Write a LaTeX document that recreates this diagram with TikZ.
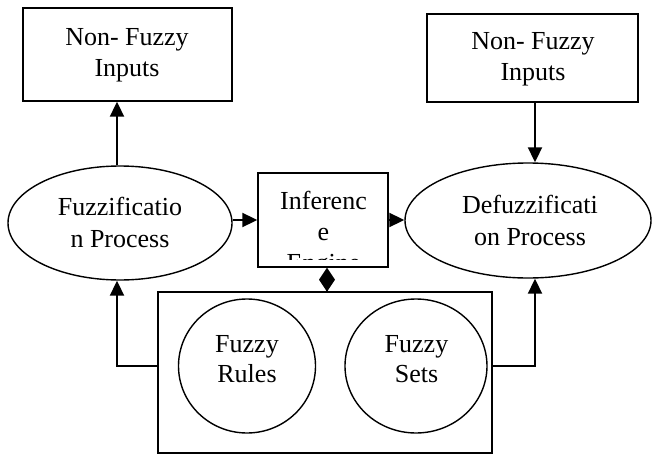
\documentclass[tikz,border=0pt]{standalone}
\usepackage{fontspec}
\setmainfont{Liberation Serif}[Ligatures={TeX,CommonOff}]
\usetikzlibrary{arrows.meta,shapes.geometric}

\begin{document}
\begin{tikzpicture}[x=1pt,y=-1pt,
  boxnode/.style={draw, line width=1.4pt, rectangle, inner sep=0pt},
  ovalnode/.style={draw, line width=1.4pt, ellipse, inner sep=0pt},
  label text/.style={inner sep=0pt, align=center},
  box text/.style={label text, font=\fontsize{26}{31}\selectfont},
  oval text/.style={label text, font=\fontsize{26}{32}\selectfont},
  round text/.style={label text, font=\fontsize{26}{30}\selectfont},
  link/.style={line width=2pt, -{Triangle[length=15pt,width=14pt]}},
  diamondlink/.style={line width=2pt, -{Diamond[length=24pt,width=16pt]}},
  ]
  \useasboundingbox (0,0) rectangle (654,455);

  % x positions of the vertical connectors
  \coordinate (lx) at (117,0);
  \coordinate (rx) at (535,0);
  \coordinate (dx) at (327,0);

  % input boxes
  \node[boxnode, minimum width=209pt, minimum height=93pt] (inl) at (127.5,54.5) {};
  \node[box text] (inltext) at (127,55.2) {Non- Fuzzy\\Inputs};
  \node[boxnode, minimum width=211pt, minimum height=88pt] (inr) at (532.5,58) {};
  \node[box text] (inrtext) at (533,59.7) {Non- Fuzzy\\Inputs};

  % processes
  \node[ovalnode, minimum width=224pt, minimum height=114pt] (fz) at (120,223) {};
  \node[oval text] (fztext) at (120,222) {Fuzzificatio\\n Process};
  \node[ovalnode, minimum width=246pt, minimum height=115pt] (dfz) at (528,220.5) {};
  \node[oval text] (dfztext) at (530,220) {Defuzzificati\\on Process};

  % inference engine, its text cut off by the frame
  \node[boxnode, minimum width=130pt, minimum height=94pt] (inf) at (323,220) {};
  \begin{scope}
    \clip (262,177) rectangle (384,259);
    \node[oval text, font=\fontsize{26}{31}\selectfont] (inftext) at (323.5,233.9) {Inferenc\\e\\Engine};
  \end{scope}

  % knowledge base
  \node[boxnode, minimum width=334pt, minimum height=161pt] (kb) at (325,372.5) {};
  \node[ovalnode, minimum width=137pt, minimum height=134pt] (rules) at (247,366) {};
  \node[round text] (rulestext) at (247,359.4) {Fuzzy\\Rules};
  \node[ovalnode, minimum width=142pt, minimum height=134pt] (sets) at (416,366) {};
  \node[round text] (setstext) at (416.5,359.4) {Fuzzy\\Sets};

  % connectors
  \draw[link] (fz.north -| lx) -- (inl.south -| lx);
  \draw[link] (inr.south -| rx) -- (dfz.north -| rx);
  \draw[link] (fz.east |- inf.west) -- (inf.west);
  \draw[link] (inf.east) -- (dfz.west |- inf.east);
  \draw[diamondlink] (kb.north -| dx) -- (inf.south -| dx);
  \draw[link] (kb.west |- rules.center) -| (fz.south -| lx);
  \draw[link] (kb.east |- sets.center) -| (dfz.south -| rx);
\end{tikzpicture}
\end{document}
